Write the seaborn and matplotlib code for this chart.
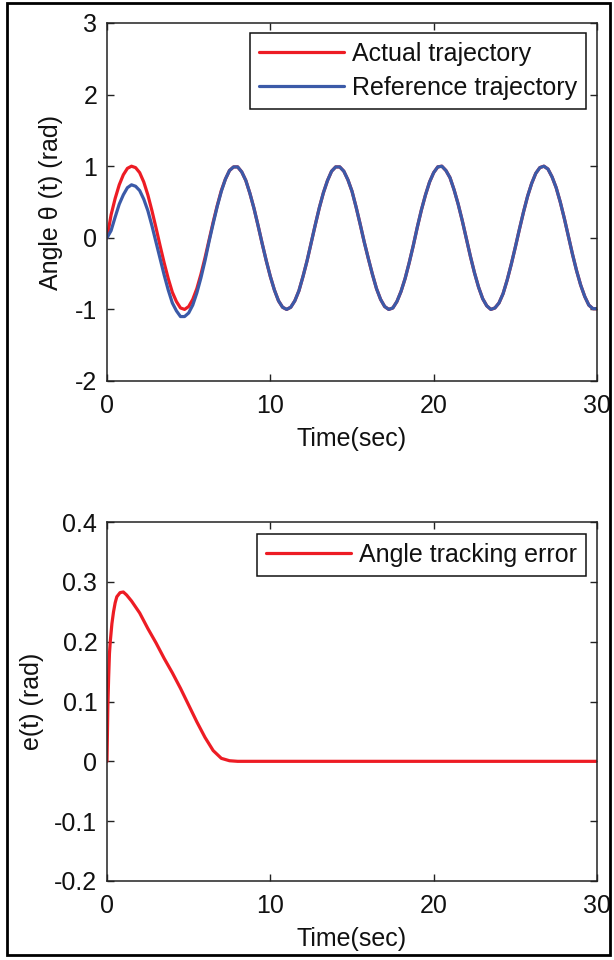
import numpy as np
import pandas as pd
import matplotlib
matplotlib.use("Agg")
import matplotlib.pyplot as plt
import seaborn as sns
from matplotlib.patches import Rectangle

# time grid for the trajectories (s)
t_traj = [i * 0.25 for i in range(121)]

# actual trajectory (rad)
actual = [
    0.00, 0.32, 0.55, 0.74, 0.88, 0.97, 1.00, 0.98, 0.91, 0.78,
    0.60, 0.38, 0.14, -0.11, -0.35, -0.57, -0.76, -0.89, -0.98, -1.00,
    -0.96, -0.86, -0.71, -0.51, -0.28, -0.03, 0.22, 0.45, 0.66, 0.82,
    0.94, 0.99, 0.99, 0.92, 0.80, 0.62, 0.41, 0.17, -0.08, -0.32,
    -0.54, -0.73, -0.88, -0.97, -1.00, -0.97, -0.88, -0.74, -0.54, -0.32,
    -0.07, 0.18, 0.42, 0.63, 0.80, 0.93, 0.99, 0.99, 0.93, 0.81,
    0.65, 0.43, 0.19, -0.06, -0.29, -0.51, -0.71, -0.86, -0.96, -1.00,
    -0.98, -0.89, -0.75, -0.57, -0.35, -0.11, 0.15, 0.39, 0.60, 0.78,
    0.91, 0.99, 1.00, 0.94, 0.84, 0.67, 0.47, 0.24, -0.01, -0.26,
    -0.49, -0.69, -0.85, -0.95, -1.00, -0.98, -0.91, -0.78, -0.59, -0.37,
    -0.13, 0.12, 0.36, 0.58, 0.76, 0.90, 0.98, 1.00, 0.96, 0.85,
    0.70, 0.50, 0.27, 0.02, -0.23, -0.46, -0.66, -0.82, -0.94, -0.99,
    -0.99,
]

# reference trajectory (rad)
reference = [
    0.00, 0.10, 0.29, 0.47, 0.60, 0.70, 0.74, 0.72, 0.66, 0.54,
    0.38, 0.17, -0.06, -0.29, -0.52, -0.73, -0.91, -1.02, -1.10, -1.10,
    -1.05, -0.94, -0.77, -0.56, -0.32, -0.05, 0.20, 0.44, 0.65, 0.82,
    0.94, 0.99, 0.99, 0.92, 0.80, 0.62, 0.41, 0.17, -0.08, -0.32,
    -0.54, -0.73, -0.88, -0.97, -1.00, -0.97, -0.88, -0.74, -0.54, -0.32,
    -0.07, 0.18, 0.42, 0.63, 0.80, 0.93, 0.99, 0.99, 0.93, 0.81,
    0.65, 0.43, 0.19, -0.06, -0.29, -0.51, -0.71, -0.86, -0.96, -1.00,
    -0.98, -0.89, -0.75, -0.57, -0.35, -0.11, 0.15, 0.39, 0.60, 0.78,
    0.91, 0.99, 1.00, 0.94, 0.84, 0.67, 0.47, 0.24, -0.01, -0.26,
    -0.49, -0.69, -0.85, -0.95, -1.00, -0.98, -0.91, -0.78, -0.59, -0.37,
    -0.13, 0.12, 0.36, 0.58, 0.76, 0.90, 0.98, 1.00, 0.96, 0.85,
    0.70, 0.50, 0.27, 0.02, -0.23, -0.46, -0.66, -0.82, -0.94, -0.99,
    -0.99,
]

# tracking error
t_err = [0, 0.05, 0.1, 0.15, 0.2, 0.3, 0.4, 0.5, 0.6, 0.8, 1.0, 1.2, 1.5,
         2.0, 2.5, 3.0, 3.5, 4.0, 4.5, 5.0, 5.5, 6.0, 6.5, 7.0, 7.5, 8.0, 30.0]
err = [0.0, 0.09, 0.14, 0.18, 0.20, 0.23, 0.25, 0.265, 0.275, 0.282, 0.283,
       0.278, 0.268, 0.248, 0.222, 0.198, 0.172, 0.148, 0.122, 0.094, 0.066,
       0.040, 0.018, 0.005, 0.001, 0.0, 0.0]

x_ticks = [0, 10, 20, 30]
top_yticks = [-2, -1, 0, 1, 2, 3]
bot_yticks = [-0.2, -0.1, 0, 0.1, 0.2, 0.3, 0.4]

RED = "#ED1C24"
BLUE = "#3B5AA8"
FS = 18

sns.set_theme(style="white")
plt.rcParams["font.family"] = ["Liberation Sans", "DejaVu Sans"]

fig = plt.figure(figsize=(6.14, 9.6), dpi=100)
W, H = 614, 960


def px_axes(l, t, r, b):
    return fig.add_axes([l / W, 1 - b / H, (r - l) / W, (b - t) / H])


ax1 = px_axes(107, 23, 597, 381)
ax2 = px_axes(107, 522, 597, 881)

df1 = pd.DataFrame({"t": t_traj, "actual": actual, "reference": reference})
sns.lineplot(data=df1, x="t", y="actual", ax=ax1, color=RED, lw=2.3,
             label="Actual trajectory")
sns.lineplot(data=df1, x="t", y="reference", ax=ax1, color=BLUE, lw=2.3,
             label="Reference trajectory")

df2 = pd.DataFrame({"t": t_err, "e": err})
sns.lineplot(data=df2, x="t", y="e", ax=ax2, color=RED, lw=2.3,
             label="Angle tracking error")

ax1.set_ylim(-2, 3)
ax1.set_yticks(top_yticks)
ax1.set_yticklabels([str(v) for v in top_yticks])
ax2.set_ylim(-0.2, 0.4)
ax2.set_yticks(bot_yticks)
ax2.set_yticklabels(["-0.2", "-0.1", "0", "0.1", "0.2", "0.3", "0.4"])

for ax, ylab, ylab_x, leg_top in [(ax1, "Angle θ (t) (rad)", -0.090, 0.972),
                                  (ax2, "e(t) (rad)", -0.128, 0.966)]:
    ax.set_xlim(0, 30)
    ax.set_xticks(x_ticks)
    ax.set_xticklabels([str(v) for v in x_ticks])
    ax.tick_params(direction="in", length=5, width=1, colors="#222222",
                   labelsize=FS, labelcolor="#111111",
                   top=True, right=True, bottom=True, left=True)
    ax.tick_params(axis="x", pad=9.5)
    ax.tick_params(axis="y", pad=7)
    for sp in ax.spines.values():
        sp.set_visible(True)
        sp.set_color("#222222")
        sp.set_linewidth(1.1)
    ax.set_xlabel("Time(sec)", fontsize=FS, color="#111111")
    ax.set_ylabel(ylab, fontsize=FS, color="#111111")
    ax.xaxis.set_label_coords(0.5, -0.128)
    ax.yaxis.set_label_coords(ylab_x, 0.5)
    leg = ax.legend(loc="upper right", bbox_to_anchor=(0.978, leg_top),
                    borderaxespad=0, fontsize=FS, frameon=True, fancybox=False,
                    edgecolor="#111111", framealpha=1, handlelength=3.4,
                    handletextpad=0.35, borderpad=0.35, labelspacing=0.4)
    leg.get_frame().set_linewidth(1.1)
    for txt in leg.get_texts():
        txt.set_color("#111111")

fig.patches.append(Rectangle((7 / W, 1 - 955 / H), 603 / W, 952 / H,
                             transform=fig.transFigure, fill=False,
                             edgecolor="black", lw=2))

fig.savefig("out.png", dpi=100)
